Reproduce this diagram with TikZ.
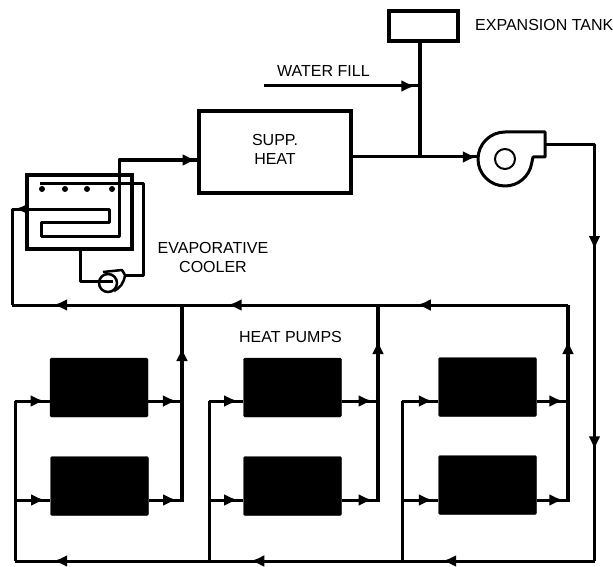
\documentclass[tikz,border=0pt]{standalone}
\usepackage{fontspec}
\setmainfont{Liberation Sans}
\usetikzlibrary{arrows.meta,decorations.markings}

\tikzset{
	pipe/.style={black,line width=3pt,line join=round},
	riser/.style={black,line width=4.5pt},
	flow/.style={postaction={decorate,decoration={markings,
		mark=at position #1 with {\arrow{Latex[length=14pt,width=12pt]}}}}},
	pumpbox/.style={draw,fill=black,rounded corners=1.5pt,minimum width=98pt,minimum height=59pt,inner sep=0pt},
	whitebox/.style={draw,line width=4pt,inner sep=0pt},
	label/.style={font=\fontsize{16}{19}\selectfont,align=center,inner sep=0pt},
}

\begin{document}
\begin{tikzpicture}[x=1pt,y=-1pt]
		
		% Ventana
		\useasboundingbox (0,0) rectangle (613,567);
		
		% Tanque y calentador
		\node[whitebox,minimum width=69pt,minimum height=30pt] (tank) at (423.5,26) {};
		\node[whitebox,minimum width=152pt,minimum height=81pt] (heater) at (275,152) {};
		\node[label,anchor=west] (tanklabel) at (475,25) {EXPANSION TANK};
		\node[label,anchor=west] (filllabel) at (277,71) {WATER FILL};
		\node[label] (heaterlabel) at (275,149) {SUPP.\\HEAT};
		\node[label] (coolerlabel) at (213,257.5) {EVAPORATIVE\\COOLER};
		\node[label] (pumpslabel) at (290.5,337) {HEAT PUMPS};
		
		% Ventilador
		\node[draw,circle,line width=2pt,minimum size=20pt,inner sep=0pt] (fan) at (505,159) {};
		\draw[line width=3pt,line join=round] (545,132) -- (505,132)
		arc[start angle=-90,end angle=-350,radius=27] -- (533,157) -- (545,157) -- cycle;
		
		% Linea de llenado y tanque
		\coordinate (tee) at (420,157);
		\coordinate (fillstart) at (264,86);
		\coordinate (fillend) at (420,86);
		\draw[riser] (tank.south -| tee) -- (tee);
		\draw[pipe,flow=0.97] (fillstart) -- (fillend);
		\draw[pipe] (heater.east |- tee) -- (tee);
		\draw[pipe,flow=0.98] (tee) -- (478,157);
		
		% Retorno por la derecha
		\coordinate (fanout) at (545,145);
		\coordinate (corner) at (594.5,145);
		\coordinate (low) at (594.5,455);
		\coordinate (bottom) at (594.5,561);
		\draw[pipe,flow=0.43] (fanout) -- (corner) -- (low);
		\draw[pipe,flow=0.985] (corner) -- (low);
		\draw[pipe] (low) -- (bottom);
		
		% Bombas de calor
		\foreach \name/\x/\y in {a1/99/387.5,a2/99.5/486,b1/292.5/387.5,b2/292.5/486,c1/487.5/387,c2/487.5/485}{
			\node[pumpbox] (\name) at (\x,\y) {};
		}
		
		% Colectores
		\coordinate (topright) at (568,305);
		\coordinate (topleft) at (12,305);
		\coordinate (botleft) at (15,561);
		\draw[pipe,flow=0.272,flow=0.612,flow=0.926] (topright) -- (topleft);
		\draw[pipe,flow=0.263,flow=0.594,flow=0.934] (bottom) -- (botleft);
		
		\foreach \up/\lo/\xl/\xr/\yt in {a1/a2/15/182/347,b1/b2/209/378/340,c1/c2/402/568/340}{
			\draw[pipe] (\xl,561) -- (\xl,401);
			\draw[pipe,flow=0.85] (\xl,401) -- (\up.west |- 0,401);
			\draw[pipe,flow=0.85] (\xl,500) -- (\lo.west |- 0,500);
			\draw[pipe,flow=0.85] (\up.east |- 0,401) -- (\xr,401);
			\draw[pipe,flow=0.85] (\lo.east |- 0,500) -- (\xr,500);
			\draw[riser] (\xr,502) -- (\xr,305);
			\draw[pipe,flow=1] (\xr,400) -- (\xr,\yt);
		}
		
		% Enfriador evaporativo
		\node[whitebox,draw,minimum width=105pt,minimum height=74pt] (cooler) at (79.5,212) {};
		\node[draw,circle,line width=2.5pt,minimum size=18pt,inner sep=0pt] (smallpump) at (108,283) {};
		\draw[line width=2.5pt,line join=round] (103,272) -- (122,270) -- (125,275) .. controls (124,283) and (120,288) .. (114,291);
		\coordinate (spraystart) at (40,183);
		\draw[pipe] (spraystart) -- (143,183) -- (143,275) -- (125,275);
		\draw[pipe] (cooler.south -| 80,0) -- (80,281) -- (113,281);
		\foreach \n/\x in {s1/42,s2/65,s3/87,s4/112}{
			\fill (\x,189) circle (3pt) coordinate (\n);
		}
		\coordinate (coilin) at (197,160);
		\draw[pipe] (12,305) -- (12,209) -- (109,209) -- (109,222) -- (41.5,222) -- (41.5,236) -- (119,236) -- (119,160) -- (197,160);
		\draw[pipe,flow=0.99] (150,160) -- (heater.west |- coilin);
		\draw[pipe,flow=0.9] (40,209) -- (12,209);
		
\end{tikzpicture}
\end{document}
